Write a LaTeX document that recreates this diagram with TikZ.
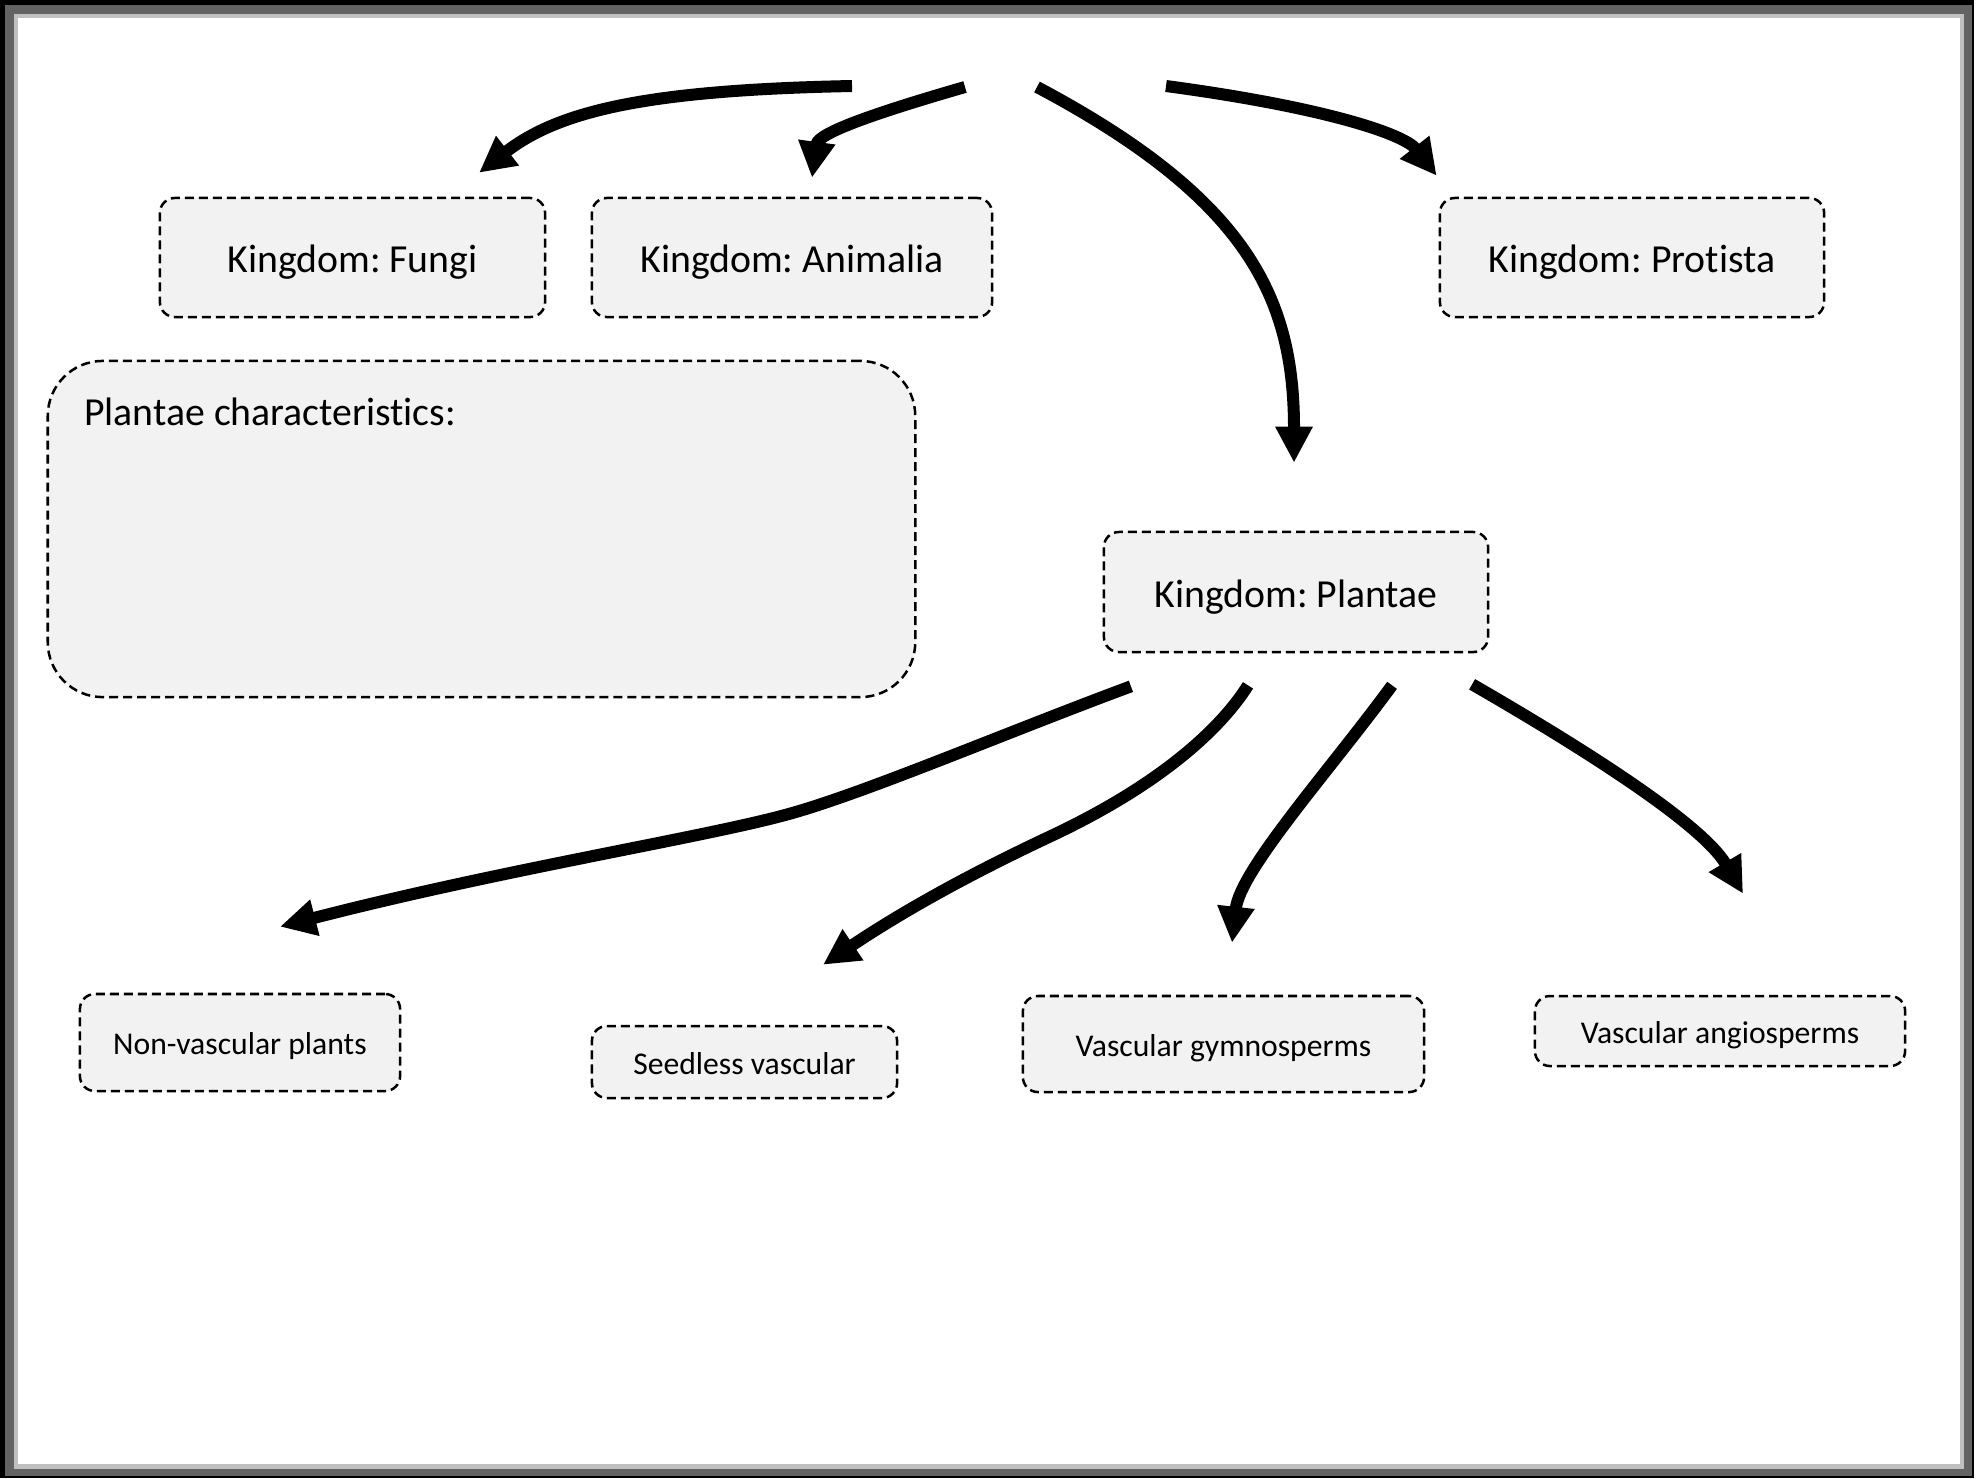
\documentclass[tikz,border=0pt]{standalone}
\usepackage{fontspec}
\setmainfont{Carlito}[Ligatures=NoCommon]
\usepackage{tikz}
\usetikzlibrary{arrows.meta}
\definecolor{boxgray}{HTML}{F2F2F2}
\definecolor{framedark}{HTML}{636363}
\definecolor{framelight}{HTML}{C0C0C0}
\frenchspacing

\begin{document}
\begin{tikzpicture}[x=0.01cm,y=-0.01cm,
        kbox/.style={draw,fill=boxgray,line width=0.025cm,dash pattern=on 0.09cm off 0.05cm,rounded corners=0.15cm,inner sep=0pt,text height=0.3cm,text depth=0cm,font=\fontsize{11.3}{13.5}\selectfont},
        sbox/.style={kbox,text height=0.24cm,text depth=0cm,font=\fontsize{9}{11}\selectfont},
        arr/.style={line width=0.12cm,-{Triangle[length=0.36cm,width=0.35cm]}}]
        \fill[white] (0,0) rectangle (1986,1478);
        \fill[black] (0,0) rectangle (1974,1478);
        \fill[framedark] (5,5) rectangle (1972,1476);
        \fill[framelight] (14,14) rectangle (1964,1469);
        \fill[white] (18,18) rectangle (1960,1464);
        \node[kbox,minimum width=3.85cm,minimum height=1.19cm] (fungi) at (352.5,257.5) {Kingdom: Fungi};
        \node[kbox,minimum width=4.0cm,minimum height=1.19cm] (animalia) at (792,257.5) {Kingdom: Animalia};
        \node[kbox,minimum width=3.84cm,minimum height=1.19cm] (protista) at (1632,257.5) {Kingdom: Protista};
        \node[kbox,minimum width=8.67cm,minimum height=3.36cm,rounded corners=0.55cm] (chars) at (481.5,529) {};
        \node[anchor=base west,inner sep=0pt,font=\fontsize{11.3}{13.5}\selectfont] (charstitle) at ([xshift=0.37cm,yshift=-0.66cm]chars.north west) {Plantae characteristics:};
        \node[kbox,minimum width=3.84cm,minimum height=1.2cm] (plantae) at (1296,592) {Kingdom: Plantae};
        \node[sbox,minimum width=3.2cm,minimum height=0.97cm] (nonvasc) at (240,1042.5) {Non-vascular plants};
        \node[sbox,minimum width=3.05cm,minimum height=0.72cm] (seedless) at (744.5,1062) {Seedless vascular};
        \node[sbox,minimum width=4.01cm,minimum height=0.96cm] (gymno) at (1223.5,1044) {Vascular gymnosperms};
        \node[sbox,minimum width=3.7cm,minimum height=0.7cm] (angio) at (1720,1031) {Vascular angiosperms};
        \coordinate (fungistart) at (852,86);
        \coordinate (animstart) at (965,87);
        \coordinate (plantstart) at (1037,87);
        \coordinate (protstart) at (1166,86);
        \draw[arr] (fungistart) .. controls (650,90) and (560,110) .. ([xshift=1.265cm,yshift=0.24cm]fungi.north);
        \draw[arr] (animstart) .. controls (875,113) and (818,133) .. ([xshift=0.2cm,yshift=0.19cm]animalia.north);
        \draw[arr] (plantstart) .. controls (1250,200) and (1294,300) .. ([xshift=-0.02cm,yshift=0.68cm]plantae.north);
        \draw[arr] (protstart) .. controls (1330,108) and (1405,135) .. ([xshift=-0.02cm,yshift=0.21cm]protista.north west);
        \draw[arr] ([xshift=-1.65cm,yshift=-0.33cm]plantae.south) .. controls (1000,735) and (860,795) .. (785,815) .. controls (700,838) and (500,870) .. ([xshift=0.4cm,yshift=0.66cm]nonvasc.north);
        \draw[arr] ([xshift=-0.48cm,yshift=-0.32cm]plantae.south) .. controls (1225,722) and (1170,780) .. (1051,836) .. controls (970,874) and (905,910) .. ([xshift=0.785cm,yshift=0.6cm]seedless.north);
        \draw[arr] ([xshift=0.96cm,yshift=-0.32cm]plantae.south) .. controls (1330,770) and (1240,870) .. ([xshift=0.085cm,yshift=0.52cm]gymno.north);
        \draw[arr] ([xshift=1.76cm,yshift=-0.31cm]plantae.south) .. controls (1560,735) and (1700,820) .. ([xshift=0.23cm,yshift=1.01cm]angio.north);
\end{tikzpicture}
\end{document}
